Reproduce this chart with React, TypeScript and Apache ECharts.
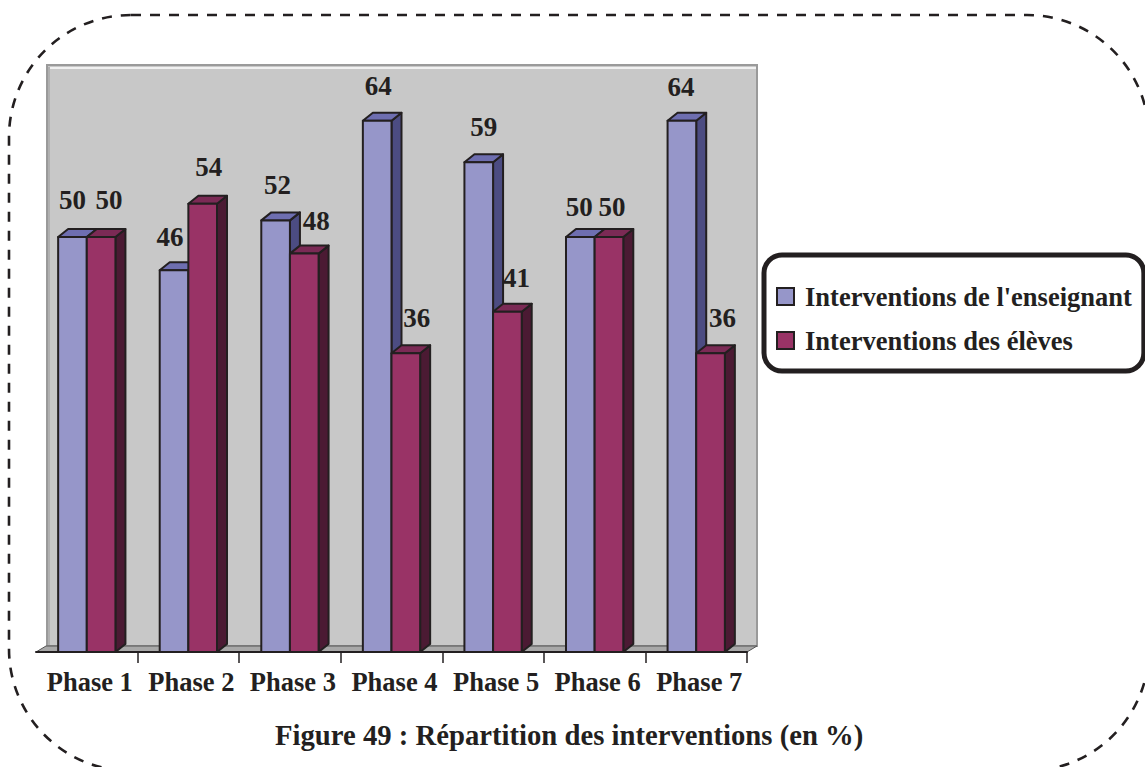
import React, { useEffect, useRef } from "react";
import * as echarts from "echarts";

const phases = ["Phase 1", "Phase 2", "Phase 3", "Phase 4", "Phase 5", "Phase 6", "Phase 7"];
const teacher = [50, 46, 52, 64, 59, 50, 64];
const pupils = [50, 54, 48, 36, 41, 50, 36];
const teacherLabelDx = [0, -4, 2, 1, 5, -1, -1];
const teacherLabelDy = [-37, -33, -35, -35, -35, -30, -34];
const pupilsLabelDx = [8, 6, 12, 11, 9, 3, 12];
const pupilsLabelDy = [-37, -37, -33, -35, -34, -30, -35];

const INK = "#231f20";
const FONT = "'Liberation Serif', serif";
const BLUE = { front: "#9696c9", side: "#4c4c82", top: "#6e6eb0" };
const RED = { front: "#993366", side: "#4b1a33", top: "#7b2a55" };
const DX = 10;
const DY = 8;

function bar3d(face: typeof BLUE, side: -1 | 0, ldx: number[], ldy: number[]) {
  return (params: any, api: any) => {
    const i = api.value(0);
    const v = api.value(1);
    const top = api.coord([i, v]);
    const base = api.coord([i, 0]);
    const w = api.size([1, 0])[0] * 0.282;
    const x0 = top[0] + side * w;
    const x1 = x0 + w;
    const y0 = top[1];
    const y1 = base[1];
    const st = { stroke: INK, lineWidth: 2, lineJoin: "round" };
    return {
      type: "group",
      children: [
        { type: "polygon", shape: { points: [[x1, y0], [x1 + DX, y0 - DY], [x1 + DX, y1 - DY], [x1, y1]] }, style: { fill: face.side, ...st } },
        { type: "polygon", shape: { points: [[x0, y0], [x0 + DX, y0 - DY], [x1 + DX, y0 - DY], [x1, y0]] }, style: { fill: face.top, ...st } },
        { type: "rect", shape: { x: x0, y: y0, width: w, height: y1 - y0 }, style: { fill: face.front, ...st } },
        {
          type: "text",
          x: (x0 + x1) / 2 + ldx[i],
          y: y0 + ldy[i],
          style: { text: String(v), font: `bold 27px ${FONT}`, fill: INK, align: "center", verticalAlign: "middle" },
        },
      ],
    };
  };
}

export default function App() {
  const ref = useRef<HTMLDivElement>(null);
  useEffect(() => {
    document.body.style.margin = "0";
    const chart = echarts.init(ref.current!, undefined, { renderer: "svg" });
    chart.setOption({
      animation: false,
      backgroundColor: "#ffffff",
      title: {
        text: "Figure 49 : Répartition des interventions (en %)",
        left: 275,
        top: 720,
        padding: 0,
        textStyle: { fontFamily: FONT, fontWeight: "bold", fontSize: 28.7, color: INK },
      },
      legend: {
        left: 764,
        top: 255,
        orient: "vertical",
        selectedMode: false,
        icon: "rect",
        itemWidth: 17,
        itemHeight: 17,
        itemGap: 17,
        padding: [28, 12, 17, 12],
        backgroundColor: "#ffffff",
        borderColor: INK,
        borderWidth: 5,
        borderRadius: 18,
        textStyle: { fontFamily: FONT, fontWeight: "bold", fontSize: 26.5, color: INK, padding: [0, 0, 0, 6] },
        data: ["Interventions de l'enseignant", "Interventions des élèves"],
      },
      grid: { left: 36, right: 398, top: 71, bottom: 115 },
      xAxis: {
        type: "category",
        data: phases,
        axisLine: { show: true, lineStyle: { color: INK, width: 2 } },
        axisTick: { show: true, length: 11, interval: (i: number) => i > 0, lineStyle: { color: INK, width: 1.5 } },
        axisLabel: {
          fontFamily: FONT,
          fontWeight: "bold",
          fontSize: 26.5,
          color: INK,
          margin: 16,
          interval: 0,
          padding: [0, 0, 0, 6],
        },
      },
      yAxis: { type: "value", min: 0, max: 70, show: false, splitLine: { show: false } },
      graphic: [
        {
          type: "rect",
          shape: { x: 9, y: 15, width: 1140, height: 756, r: 122 },
          style: { fill: "none", stroke: INK, lineWidth: 2.6, lineDash: [10, 9] },
        },
        {
          type: "rect",
          shape: { x: 47, y: 65, width: 710, height: 581 },
          style: { fill: "#c8c8c8", stroke: "#9a9a9a", lineWidth: 2 },
        },
        {
          type: "line",
          shape: { x1: 48, y1: 68, x2: 756, y2: 68 },
          style: { stroke: "#ffffff", lineWidth: 1.5 },
        },
        {
          type: "rect",
          shape: { x: 48, y: 67, width: 2, height: 578 },
          style: { fill: "#b0b0b0" },
        },
        {
          type: "polygon",
          shape: { points: [[36, 652], [46, 646], [757, 646], [747, 652]] },
          style: { fill: "#a8a8a8", stroke: "#555555", lineWidth: 1 },
        },
      ],
      series: [
        {
          type: "custom",
          name: "Interventions de l'enseignant",
          data: teacher.map((v, i) => [i, v]),
          encode: { x: 0, y: 1 },
          clip: false,
          itemStyle: { color: BLUE.front, borderColor: INK, borderWidth: 1.5 },
          renderItem: bar3d(BLUE, -1, teacherLabelDx, teacherLabelDy),
        },
        {
          type: "custom",
          name: "Interventions des élèves",
          data: pupils.map((v, i) => [i, v]),
          encode: { x: 0, y: 1 },
          clip: false,
          itemStyle: { color: RED.front, borderColor: INK, borderWidth: 1.5 },
          renderItem: bar3d(RED, 0, pupilsLabelDx, pupilsLabelDy),
        },
      ],
    });
    return () => chart.dispose();
  }, []);
  return <div ref={ref} style={{ width: 1145, height: 767 }} />;
}
